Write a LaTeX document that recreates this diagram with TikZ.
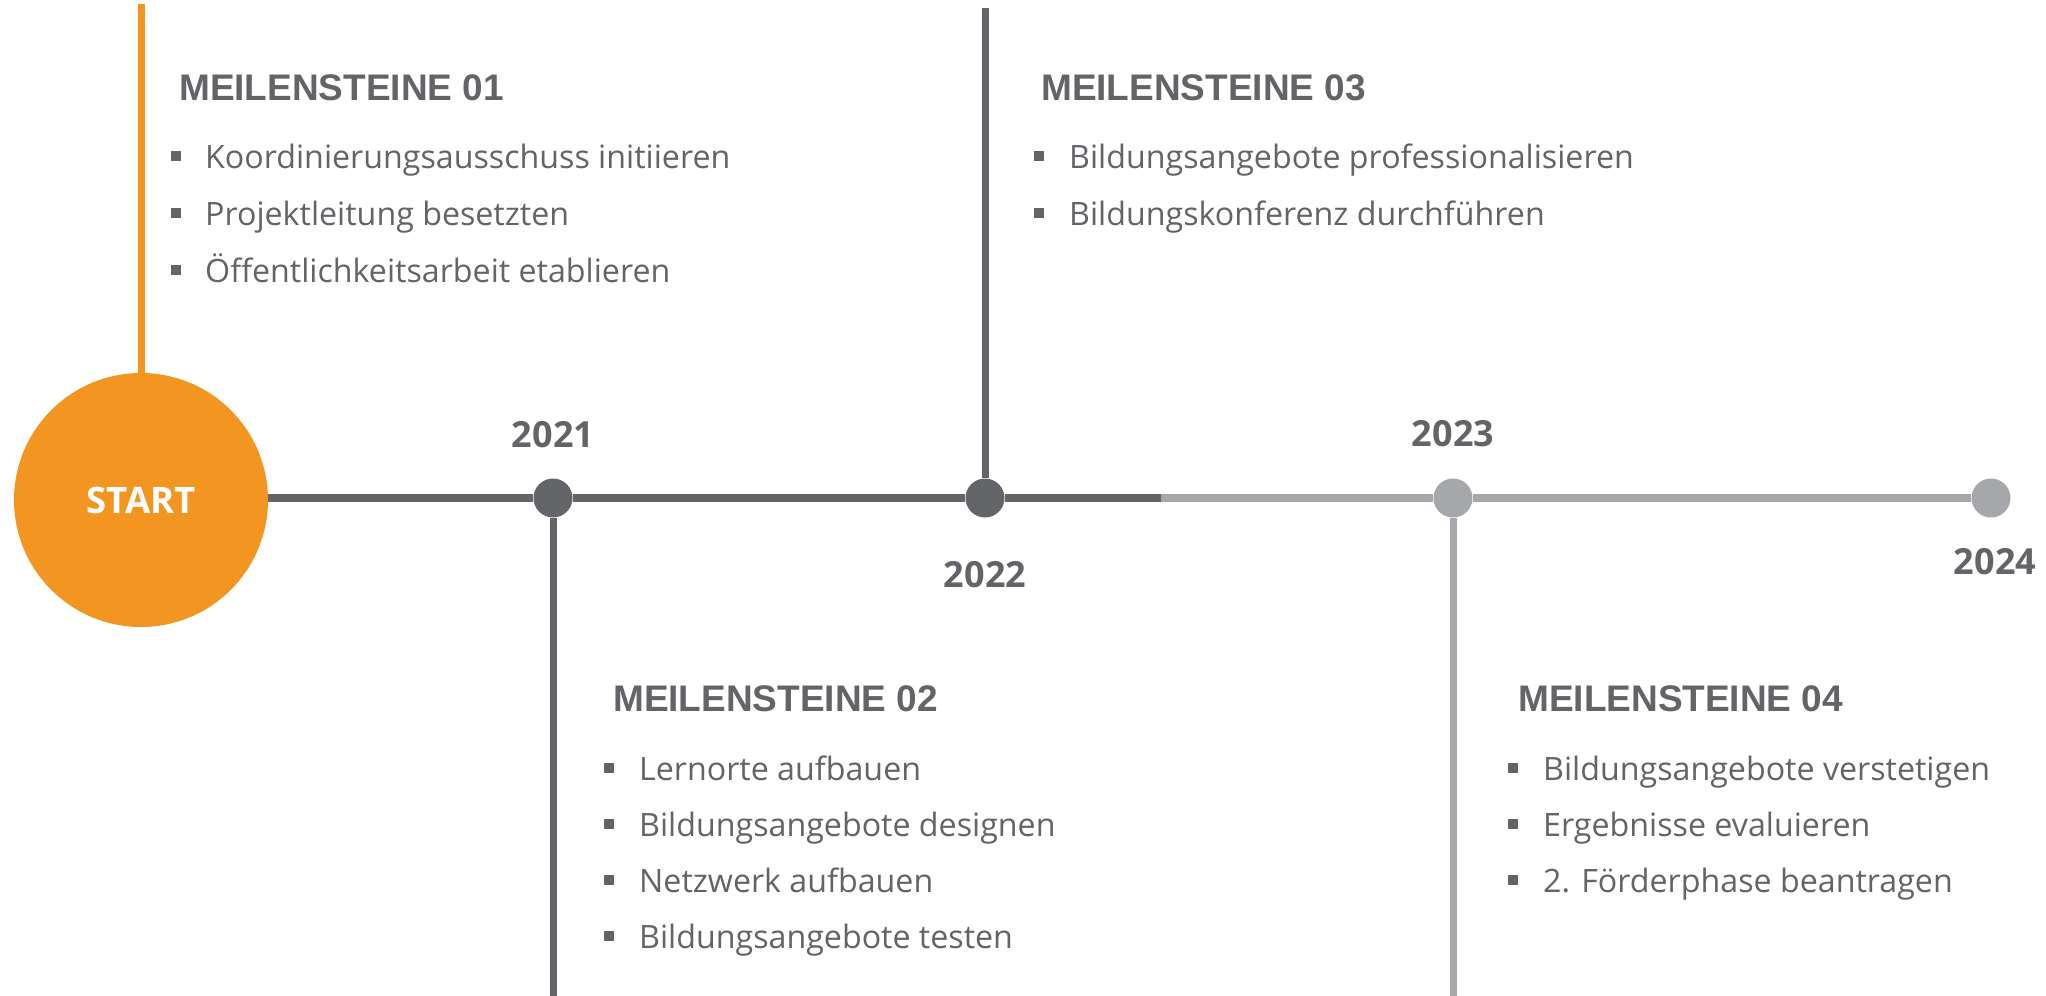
\documentclass[tikz,border=0pt]{standalone}
\usepackage{fontspec}
\setmainfont{Open Sans}
\newfontfamily\headfont{Liberation Sans}
\definecolor{orng}{HTML}{F39521}
\definecolor{dark}{HTML}{646569}
\definecolor{lite}{HTML}{A6A7AB}
\definecolor{txt}{HTML}{636468}
\begin{document}
\begin{tikzpicture}[x=1pt,y=-1pt,
  heading/.style={anchor=base west, inner sep=0, text=txt, font=\headfont\bfseries\fontsize{37}{40}\selectfont},
  item/.style={anchor=base west, inner sep=0, text=txt, font=\fontsize{32.2}{36}\selectfont},
  bul/.style={rectangle, fill=txt, minimum size=10pt, inner sep=0},
  year/.style={anchor=base, inner sep=0, text=txt, font=\bfseries\fontsize{36}{40}\selectfont},
  dotd/.style={circle, fill=dark, minimum size=39pt, inner sep=0},
  dotl/.style={circle, fill=lite, minimum size=39pt, inner sep=0},
  mainl/.style={line width=8pt},
  vert/.style={line width=7pt}]
\useasboundingbox[fill=white] (0,0) rectangle (2046,996);

% start circle and dots
\node[circle, fill=orng, minimum size=254pt, inner sep=0, text=white, font=\bfseries\fontsize{36.5}{40}\selectfont] (start) at (141,500) {START};
\node[dotd] (d1) at (553,498) {};
\node[dotd] (d2) at (985,498) {};
\node[dotl] (d3) at (1453,498) {};
\node[dotl] (d4) at (1991,498) {};
\coordinate (mid) at (1161,498);
\coordinate (top0) at (141,4);
\coordinate (top2) at (985,8);
\coordinate (bot1) at (553,996);
\coordinate (bot3) at (1453,996);

% main line
\draw[mainl, dark] (start.east |- d1.west) -- (d1.west);
\draw[mainl, dark] (d1.east) -- (d2.west);
\draw[mainl, dark] (d2.east) -- (mid);
\draw[mainl, lite] (mid) -- (d3.west);
\draw[mainl, lite] (d3.east) -- (d4.west);

% vertical lines
\draw[vert, orng] (start.north) -- (top0);
\draw[vert, dark] (d2.north) -- (top2);
\draw[vert, dark] (d1.south) -- (bot1);
\draw[vert, lite] (d3.south) -- (bot3);

% years
\node[year] (y1) at (553,447) {2021};
\node[year] (y2) at (985,587) {2022};
\node[year] (y3) at (1453,446) {2023};
\node[year] (y4) at (1995,574) {2024};

% Meilensteine 01
\node[heading] (h1) at (179,100) {MEILENSTEINE 01};
\node[bul] (b11) at (176,156) {};
\node[item] (t11) at (205,168) {Koordinierungsausschuss initiieren};
\node[bul] (b12) at (176,213) {};
\node[item] (t12) at (205,225) {Projektleitung besetzten};
\node[bul] (b13) at (176,270) {};
\node[item] (t13) at (205,282) {Öffentlichkeitsarbeit etablieren};

% Meilensteine 03
\node[heading] (h3) at (1041,100) {MEILENSTEINE 03};
\node[bul] (b31) at (1039,156) {};
\node[item] (t31) at (1069,168) {Bildungsangebote professionalisieren};
\node[bul] (b32) at (1039,213) {};
\node[item] (t32) at (1069,225) {Bildungskonferenz durchführen};

% Meilensteine 02
\node[heading] (h2) at (613,711) {MEILENSTEINE 02};
\node[bul] (b21) at (609,768) {};
\node[item] (t21) at (639,780) {Lernorte aufbauen};
\node[bul] (b22) at (609,824) {};
\node[item] (t22) at (639,836) {Bildungsangebote designen};
\node[bul] (b23) at (609,880) {};
\node[item] (t23) at (639,892) {Netzwerk aufbauen};
\node[bul] (b24) at (609,936) {};
\node[item] (t24) at (639,948) {Bildungsangebote testen};

% Meilensteine 04
\node[heading] (h4) at (1518,711) {MEILENSTEINE 04};
\node[bul] (b41) at (1513,768) {};
\node[item] (t41) at (1543,780) {Bildungsangebote verstetigen};
\node[bul] (b42) at (1513,824) {};
\node[item] (t42) at (1543,836) {Ergebnisse evaluieren};
\node[bul] (b43) at (1513,880) {};
\node[item] (t43) at (1543,892) {2. Förderphase beantragen};
\end{tikzpicture}
\end{document}
